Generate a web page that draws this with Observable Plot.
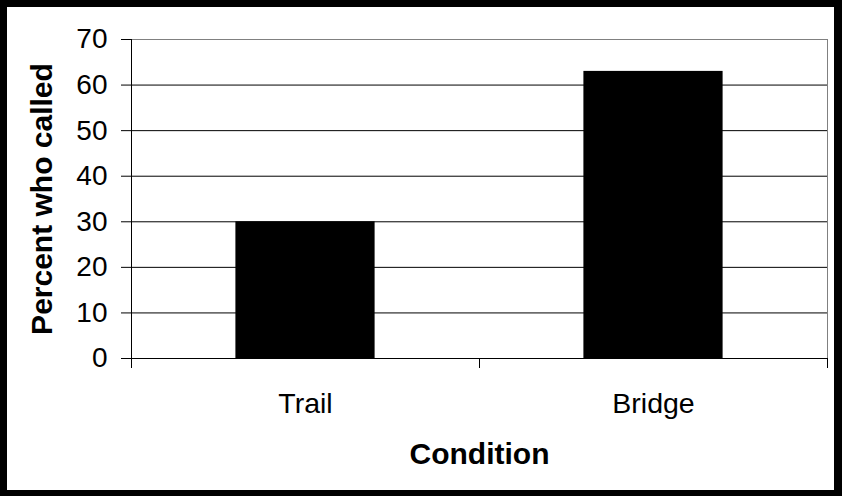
<!DOCTYPE html>
<html>
<head>
<meta charset="utf-8">
<script src="https://cdn.jsdelivr.net/npm/d3@7"></script>
<script src="https://cdn.jsdelivr.net/npm/@observablehq/plot@0.6"></script>
<style>
  html, body { margin: 0; padding: 0; background: white; }
  #wrap {
    width: 842px; height: 496px; box-sizing: border-box;
    border-style: solid; border-color: black;
    border-width: 7px 8px 6px 7px;
    background: white; overflow: hidden;
  }
  #wrap svg { display: block; }
</style>
</head>
<body>
<div id="wrap"></div>
<script>
const categories = ["Trail", "Bridge"];
const values = [30, 63];
const yTicks = [0, 10, 20, 30, 40, 50, 60, 70];
const xLabel = "Condition";
const yLabel = "Percent who called";

const data = categories.map((c, i) => ({ category: c, index: i, value: values[i] }));

const chart = Plot.plot({
  width: 827,
  height: 483,
  marginLeft: 124,
  marginTop: 32,
  marginRight: 7,
  marginBottom: 132,
  x: { domain: [0, categories.length], axis: null },
  y: { domain: [0, 70], axis: null },
  style: { fontFamily: "'Liberation Sans', Arial, sans-serif", color: "black", background: "white" },
  marks: [
    Plot.frame({ stroke: "#808080" }),
    Plot.ruleY(yTicks.filter(t => t < 70), { stroke: "black" }),
    Plot.rect(data, { x1: d => d.index + 0.3, x2: d => d.index + 0.7, y1: 0, y2: "value", fill: "black" }),
    Plot.ruleX([0], { stroke: "black" }),
    Plot.axisY({ ticks: yTicks, tickSize: 10, tickPadding: 14, fontSize: 28, label: null }),
    Plot.axisX({ ticks: d3.range(0, categories.length + 1), tickSize: 10, tickFormat: () => "", label: null }),
    Plot.axisX({ ticks: categories.map((c, i) => i + 0.5), tickSize: 0, tickPadding: 34, fontSize: 28.5,
                 tickFormat: v => categories[Math.floor(v)], label: null }),
    Plot.text([xLabel], { x: categories.length / 2, frameAnchor: "bottom", dy: 84, lineAnchor: "top",
                          fontSize: 30, fontWeight: "bold", text: d => d }),
    Plot.text([yLabel], { frameAnchor: "left", textAnchor: "middle", lineAnchor: "middle", dx: -89, rotate: -90,
                          fontSize: 30, fontWeight: "bold", text: d => d })
  ]
});
document.getElementById("wrap").appendChild(chart);
</script>
</body>
</html>
